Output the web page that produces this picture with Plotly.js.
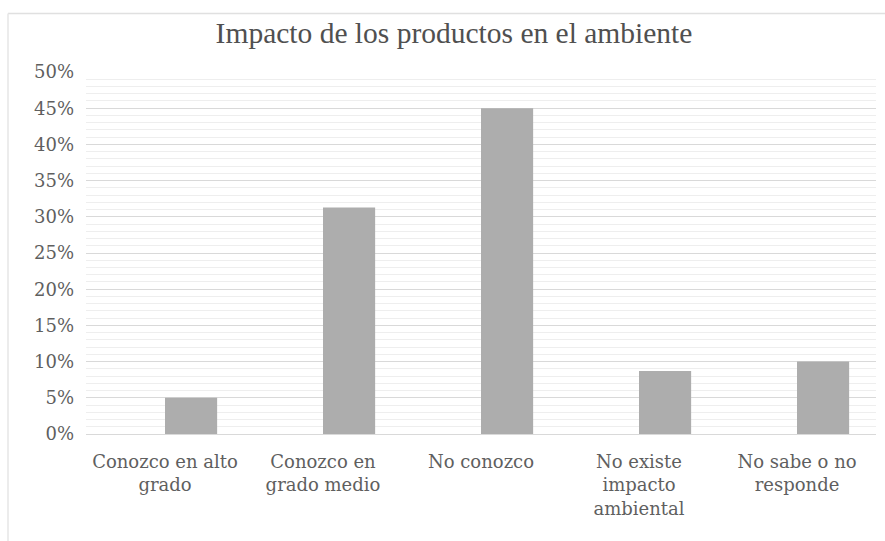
<!DOCTYPE html>
<html>
<head>
<meta charset="utf-8">
<script src="https://cdn.plot.ly/plotly-3.0.1.min.js"></script>
<style>
html,body{margin:0;padding:0;background:#fff;}
#chart{width:885px;height:541px;}
</style>
</head>
<body>
<div id="chart"></div>
<script>
var categories = ["Conozco en alto<br>grado", "Conozco en<br>grado medio", "No conozco", "No existe<br>impacto<br>ambiental", "No sabe o no<br>responde"];
var values = [0.05, 0.313, 0.45, 0.087, 0.10];
var yTickVals = [0, 0.05, 0.10, 0.15, 0.20, 0.25, 0.30, 0.35, 0.40, 0.45, 0.50];
var chartTitle = "Impacto de los productos en el ambiente";

var W = 885, H = 541;
var mL = 86, mR = 9, mT = 72, mB = 107;
var pw = W - mL - mR, ph = H - mT - mB;
function px2x(p){ return (p - mL) / pw; }
function py2y(p){ return (H - mB - p) / ph; }

var trace = {
  type: "bar",
  x: categories,
  y: values,
  offset: 0,
  width: 0.33,
  marker: {color: "#adadad", line: {width: 0}},
  hoverinfo: "none"
};

var labelFont = {family: "DejaVu Serif, serif", size: 18, color: "#5f5f5f"};

var layout = {
  width: W, height: H,
  margin: {l: mL, r: mR, t: mT, b: mB, pad: 0},
  paper_bgcolor: "#ffffff",
  plot_bgcolor: "#ffffff",
  showlegend: false,
  title: {
    text: chartTitle,
    font: {family: "Liberation Serif, Times New Roman, serif", size: 29.5, color: "#505050"},
    x: 454 / W, xref: "container", xanchor: "center",
    y: 1 - 33 / H, yref: "container", yanchor: "middle"
  },
  xaxis: {
    type: "category",
    range: [-0.5, 4.5],
    showgrid: false,
    zeroline: false,
    showline: false,
    ticks: "",
    tickfont: labelFont,
    ticklabelstandoff: 15,
    fixedrange: true
  },
  yaxis: {
    range: [0, 0.5],
    tickvals: yTickVals,
    tickformat: ".0%",
    tickfont: labelFont,
    showgrid: true,
    gridcolor: "#d9d9d9",
    gridwidth: 1,
    zeroline: true,
    zerolinecolor: "#d9d9d9",
    zerolinewidth: 1,
    showline: false,
    ticks: "",
    ticklabelstandoff: 11,
    minor: {dtick: 0.01, showgrid: true, gridcolor: "#eeeeee", gridwidth: 1, ticks: ""},
    fixedrange: true
  },
  shapes: [
    {type: "line", xref: "paper", yref: "paper", x0: px2x(8), x1: px2x(W + 5), y0: py2y(13.5), y1: py2y(13.5),
     line: {color: "#e0e0e0", width: 1.5}},
    {type: "line", xref: "paper", yref: "paper", x0: px2x(8), x1: px2x(8), y0: py2y(13.5), y1: py2y(H + 5),
     line: {color: "#e6e6e6", width: 1.5}}
  ]
};

Plotly.newPlot("chart", [trace], layout, {staticPlot: true, displayModeBar: false});
</script>
</body>
</html>
